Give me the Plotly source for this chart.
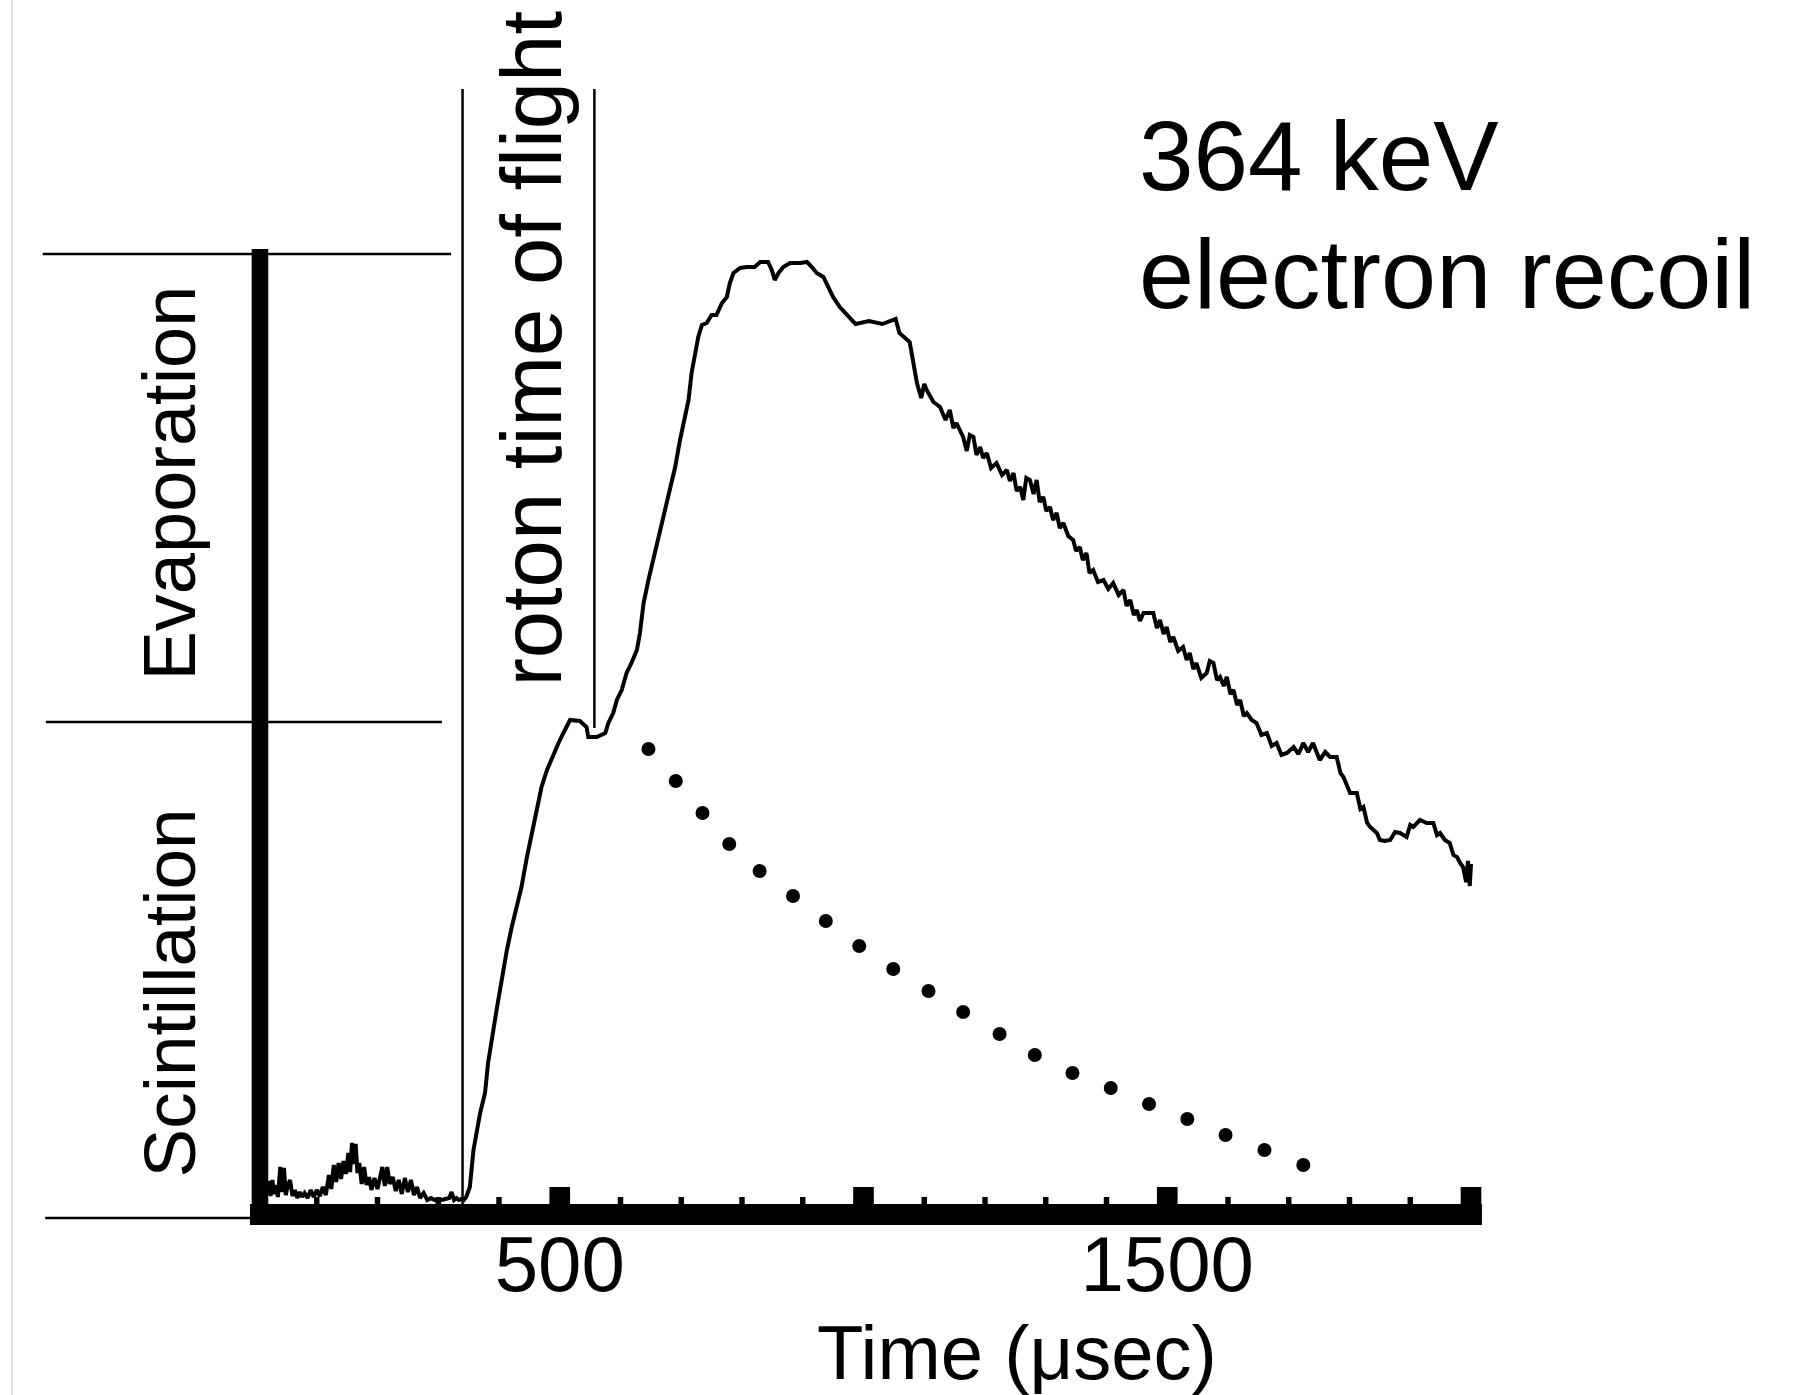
import plotly.graph_objects as go

# ---------------- data ----------------
# Pulse trace: time in microseconds, signal in arbitrary units
time_us = [
    20, 24, 27, 30, 33, 36, 40, 43, 46, 49, 52, 56, 60, 64, 68, 72, 76, 80, 85, 90,
    95, 100, 105, 110, 115, 120, 124, 128, 132, 136, 140, 144, 148, 152, 155, 158, 161, 164, 167, 170,
    174, 178, 182, 186, 190, 195, 200, 204, 208, 212, 216, 220, 225, 230, 235, 240, 245, 250, 255, 260,
    265, 270, 276, 282, 288, 294, 300, 306, 312, 318, 322, 326, 330, 334, 338, 342, 346,
    352, 358, 363, 369, 377, 382,
    396, 404, 413, 421, 429, 437, 446, 454, 462, 470, 479, 490, 498, 506, 517, 533, 544, 547, 561, 575,
    580, 588, 594, 602, 610, 618, 627, 632,
    638, 646, 654, 665, 673, 682, 690, 698, 706, 712, 717, 723, 728, 734, 742, 750, 758, 767, 775, 780,
    786, 797, 808, 821, 830, 843, 849, 854, 860, 868, 879, 896, 907, 915, 923, 934, 942, 950, 961,
    970, 987, 1009, 1031, 1053, 1059, 1076,
    1088, 1095, 1100, 1104, 1115, 1126, 1135, 1142, 1148, 1153, 1160, 1164, 1170, 1175, 1181, 1186,
    1192, 1197, 1203, 1210, 1219, 1228, 1236, 1241, 1247, 1252, 1258, 1263, 1268, 1274, 1280, 1285,
    1290, 1296, 1301, 1307, 1312, 1318, 1323, 1329, 1337, 1345, 1350, 1356, 1361, 1367, 1372, 1378,
    1386, 1395, 1403, 1411, 1420, 1428, 1433, 1439, 1445, 1450, 1455, 1461,
    1477, 1483, 1488, 1494, 1499, 1505, 1510, 1518, 1526, 1532, 1537, 1543, 1548, 1556, 1565, 1570,
    1576, 1582, 1587, 1593, 1598, 1604, 1609, 1615, 1620, 1626, 1631, 1639, 1647, 1655, 1664, 1672,
    1680, 1688, 1697, 1708, 1716, 1724, 1732, 1740, 1751, 1760, 1768, 1779, 1785, 1790, 1801, 1812,
    1818, 1823, 1829, 1834, 1845, 1850, 1858, 1867, 1875, 1883, 1894, 1900, 1905, 1916, 1927, 1938,
    1944, 1949, 1957, 1965, 1971, 1977, 1982, 1987, 1992, 1995, 1998, 2000,
]
signal = [
    2.3, 0.8, 2.4, 1.0, 1.9, 0.7, 3.7, 1.2, 3.6, 0.9, 1.8, 2.4, 0.8, 1.4, 0.6, 1.2, 0.7, 1.1, 0.6, 1.4,
    0.7, 1.4, 0.8, 1.7, 0.9, 2.9, 1.5, 3.9, 2.2, 4.1, 2.5, 4.3, 3.0, 5.1, 3.2, 6.1, 4.0, 6.0, 3.1, 4.1,
    2.0, 3.7, 1.9, 2.7, 1.4, 2.6, 1.5, 2.7, 3.7, 1.8, 3.7, 2.0, 2.7, 1.3, 2.4, 1.0, 2.6, 1.2, 2.4, 0.9,
    1.7, 0.6, 1.1, 0.4, 0.6, 0.4, 0.5, 0.4, 0.5, 0.6, 1.2, 0.4, 0.6, 0.4, 0.5, 0.4, 0.7,
    1.7, 5.4, 7.1, 9.1, 11.1, 14.1,
    19.4, 22.4, 25.4, 27.7, 29.7, 31.7, 34.7, 37.1, 39.4, 41.7, 43.4, 45.1, 46.1, 47.1, 48.4, 48.3, 47.7, 46.7, 46.7, 47.1,
    48.1, 49.1, 50.4, 51.4, 53.1, 54.1, 55.4, 57.1,
    60.1, 62.4, 64.4, 67.4, 69.4, 71.4, 73.7, 76.4, 78.7, 80.4, 83.1, 85.1, 86.7, 87.9, 88.1, 88.9, 88.9, 90.1, 90.7, 92.1,
    93.1, 93.6, 93.7, 93.7, 94.2, 94.2, 93.4, 92.4, 93.1, 93.7, 94.1, 94.1, 94.2, 93.7, 93.1, 92.7, 91.7, 90.7, 89.7,
    89.1, 88.0, 88.3, 88.0, 88.5, 87.1, 86.2,
    82.1, 80.6, 82.0, 81.4, 80.2, 79.7, 78.4, 79.4, 77.6, 78.1, 77.2, 76.7, 75.3, 76.9, 76.7, 74.9,
    75.7, 74.6, 75.1, 73.6, 74.1, 72.9, 73.4, 72.3, 73.1, 71.3, 71.7, 70.4, 72.6, 72.4, 71.0, 72.4,
    70.2, 70.7, 69.3, 69.7, 68.4, 69.1, 67.6, 68.1, 66.8, 66.4, 65.3, 65.7, 64.4, 65.1, 63.1, 63.4,
    62.2, 62.4, 61.5, 62.1, 60.9, 61.4, 59.8, 60.4, 58.9, 59.4, 58.3, 59.1,
    59.1, 57.6, 58.4, 57.0, 57.7, 56.2, 56.7, 55.3, 55.7, 54.4, 55.1, 53.5, 54.1, 52.6, 53.1, 54.3,
    54.1, 52.4, 52.7, 51.8, 52.7, 51.0, 51.4, 49.9, 50.4, 48.8, 49.1, 48.4, 48.1, 46.9, 47.1, 45.8,
    46.1, 44.9, 45.1, 45.7, 45.0, 46.1, 45.2, 46.1, 44.4, 45.2, 44.7, 44.7, 43.1, 42.7, 41.1, 41.1,
    39.5, 39.7, 38.1, 37.7, 37.1, 36.4, 36.3, 36.4, 37.2, 37.1, 36.7, 37.9, 37.7, 38.4, 38.1, 38.1,
    36.9, 37.1, 36.4, 36.1, 34.9, 34.7, 34.1, 33.7, 32.2, 34.3, 31.8, 34.0,
]

# Dotted scintillation-decay guide
dots_time = [646, 691, 735, 779, 829, 884, 938, 993, 1049, 1107,
             1164, 1224, 1282, 1344, 1407, 1470, 1533, 1596, 1660, 1724]
dots_signal = [45.5, 42.3, 39.1, 36.0, 33.3, 30.8, 28.3, 25.8, 23.5, 21.3,
               19.2, 17.0, 14.9, 13.1, 11.6, 10.0, 8.5, 6.9, 5.4, 3.9]

# Axis ticks
tick_labels_vals = [500, 1500]
tick_labels_text = ["500", "1500"]
major_ticks = [500, 1000, 1500, 2000]
minor_ticks = [100, 200, 300, 400, 600, 700, 800, 900, 1100, 1200, 1300, 1400,
               1600, 1700, 1800, 1900]

# Roton time-of-flight markers (microseconds)
roton_start = 340
roton_end = 557

# Level markers on the left (signal units)
evap_top = 95.0
evap_bottom = 48.2

# ---------------- figure ----------------
FONT = "Liberation Sans, Arial, Helvetica, sans-serif"

fig = go.Figure()

fig.add_trace(go.Scatter(
    x=time_us, y=signal, mode="lines",
    line=dict(color="black", width=4),
    hoverinfo="skip", showlegend=False,
))
fig.add_trace(go.Scatter(
    x=dots_time, y=dots_signal, mode="markers",
    marker=dict(color="black", size=14, line=dict(width=0)),
    hoverinfo="skip", showlegend=False,
))

shapes = []
# thick x-axis bar
shapes.append(dict(type="rect", xref="x", yref="y", x0=-9.9, x1=2018, y0=-2.1, y1=0,
                   fillcolor="black", line=dict(width=0), layer="above"))
# thick vertical bar (y axis)
shapes.append(dict(type="rect", xref="x", yref="y", x0=-7.1, x1=20.2, y0=-2.1, y1=95.5,
                   fillcolor="black", line=dict(width=0), layer="above"))
# major ticks
for t in major_ticks:
    shapes.append(dict(type="rect", xref="x", yref="y", x0=t - 17, x1=t + 17, y0=-0.5, y1=1.7,
                       fillcolor="black", line=dict(width=0), layer="above"))
# minor ticks
for t in minor_ticks:
    shapes.append(dict(type="rect", xref="x", yref="y", x0=t - 4.5, x1=t + 4.5, y0=-0.5, y1=0.7,
                       fillcolor="black", line=dict(width=0), layer="above"))
# left horizontal level lines
shapes.append(dict(type="line", xref="x", yref="y", x0=-351, x1=321, y0=evap_top, y1=evap_top,
                   line=dict(color="black", width=2.5)))
shapes.append(dict(type="line", xref="x", yref="y", x0=-346, x1=306, y0=evap_bottom, y1=evap_bottom,
                   line=dict(color="black", width=2.5)))
shapes.append(dict(type="line", xref="x", yref="y", x0=-347, x1=-7, y0=-1.4, y1=-1.4,
                   line=dict(color="black", width=2.5)))
# roton time of flight lines
shapes.append(dict(type="line", xref="x", yref="y", x0=roton_start, x1=roton_start, y0=0, y1=111.5,
                   line=dict(color="black", width=2.5)))
shapes.append(dict(type="line", xref="x", yref="y", x0=roton_end, x1=roton_end, y0=47.6, y1=111.5,
                   line=dict(color="black", width=2.5)))
# faint border at far left of the image
shapes.append(dict(type="line", xref="x", yref="y", x0=-401.6, x1=-401.6, y0=-19.1, y1=120.4,
                   line=dict(color="#e2e2e2", width=2)))

annotations = [
    dict(text="364 keV", x=1450, y=104.85, xref="x", yref="y", xanchor="left", yanchor="middle",
         showarrow=False, font=dict(family=FONT, size=98, color="black")),
    dict(text="electron recoil", x=1450, y=93.1, xref="x", yref="y", xanchor="left", yanchor="middle",
         showarrow=False, font=dict(family=FONT, size=99, color="black")),
    dict(text="roton time of flight", x=452, y=85.5, xref="x", yref="y", xanchor="center",
         yanchor="middle", textangle=-90, showarrow=False,
         font=dict(family=FONT, size=85, color="black")),
    dict(text="Evaporation", x=-144, y=72.1, xref="x", yref="y", xanchor="center", yanchor="middle",
         textangle=-90, showarrow=False, font=dict(family=FONT, size=74, color="black")),
    dict(text="Scintillation", x=-144, y=21.1, xref="x", yref="y", xanchor="center", yanchor="middle",
         textangle=-90, showarrow=False, font=dict(family=FONT, size=73, color="black")),
    dict(text="Time (μsec)", x=1253, y=-14.8, xref="x", yref="y", xanchor="center", yanchor="middle",
         showarrow=False, font=dict(family=FONT, size=76, color="black")),
]

fig.update_layout(
    width=1804, height=1395,
    margin=dict(l=0, r=0, t=0, b=0),
    paper_bgcolor="white", plot_bgcolor="white",
    shapes=shapes, annotations=annotations,
    showlegend=False,
    xaxis=dict(
        domain=[0, 1], range=[-421.40, 2548.15], anchor="free", position=(1395 - 1212) / 1395,
        tickmode="array", tickvals=tick_labels_vals, ticktext=tick_labels_text,
        tickfont=dict(family=FONT, size=78, color="black"),
        ticks="", showline=False, showgrid=False, zeroline=False, fixedrange=True,
    ),
    yaxis=dict(
        domain=[0, 1], range=[-19.1, 120.4], visible=False, showgrid=False, zeroline=False,
        fixedrange=True,
    ),
)

fig.write_html("out.html")
